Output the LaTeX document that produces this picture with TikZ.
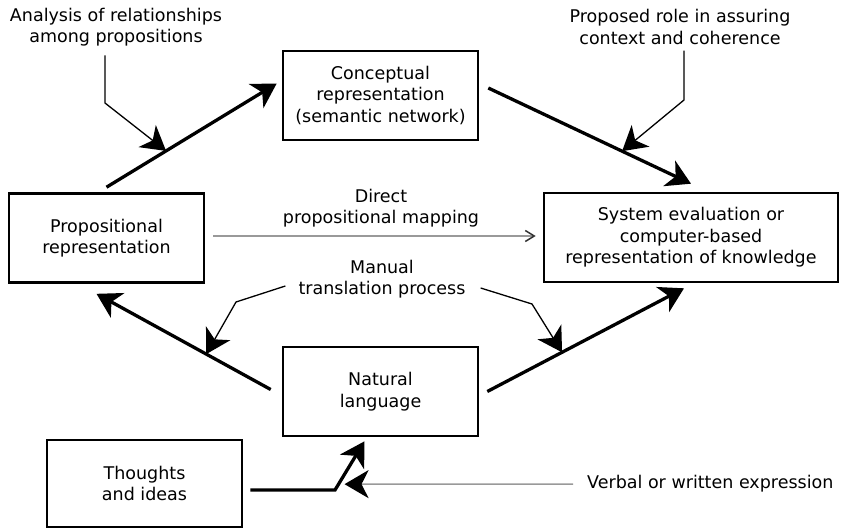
\documentclass[tikz,border=0pt]{standalone}
\usepackage{fontspec}
\setmainfont{DejaVu Sans}
\usetikzlibrary{arrows.meta, calc}

\begin{document}
\begin{tikzpicture}[
  x=1pt, y=-1pt,
  >={Stealth[length=24pt, width=28pt, inset=7pt]},
  every node/.style={font=\fontsize{17.5}{21.5}\selectfont, align=center, inner sep=0pt},
  box/.style={draw, line width=2.6pt, minimum width=195pt, minimum height=89pt},
  flow/.style={->, line width=3.3pt},
  note/.style={->, line width=1.3pt},
  lead/.style={line width=1.5pt, color=black!40}
]
  \useasboundingbox (0,0) rectangle (841,528);

  % boxes
  \node[box] (concept) at (380.5,95.5) {Conceptual\\representation\\(semantic network)};
  \node[box] (prop) at (106.5,238) {Propositional\\representation};
  \node[box, minimum width=294pt] (system) at (691,237.5) {System evaluation or\\computer-based\\representation of knowledge};
  \node[box] (natural) at (380.5,391.5) {Natural\\language};
  \node[box, minimum height=87pt] (thoughts) at (144.5,483.5) {Thoughts\\and ideas};

  % labels
  \node (analysis) at (116,27) {Analysis of relationships\\among propositions};
  \node (role) at (680,27) {Proposed role in assuring\\context and coherence};
  \node (direct) at (381,208) {Direct\\propositional mapping};
  \node (manual) at (382,279) {Manual\\translation process};
  \node[anchor=west] (verbal) at (587,484) {Verbal or written expression};

  % main flows
  \draw[flow] ([yshift=5pt]prop.north) -- coordinate[pos=0.35] (pc) ([xshift=-5pt, yshift=12pt]concept.west);
  \draw[flow] ([xshift=9pt, yshift=7.5pt]concept.east) -- coordinate[pos=0.66] (cs) ([yshift=8pt]system.north);
  \draw[flow] ([xshift=-11pt, yshift=2pt]natural.west) -- coordinate[pos=0.37] (np) ([xshift=-10pt, yshift=-10pt]prop.south);
  \draw[flow] ([xshift=8pt]natural.east) -- coordinate[pos=0.38] (ns) ([xshift=-7pt, yshift=-5pt]system.south);
  \coordinate (bend) at (335,490);
  \draw[flow] ([xshift=7pt, yshift=-6.5pt]thoughts.east) -- (bend) -- coordinate[pos=0.12] (tn) ([xshift=-16pt, yshift=-4pt]natural.south);
  \draw[lead, -{Straight Barb[length=9pt, width=11pt, color=black!80]}]
    ([xshift=8pt, yshift=2pt]prop.east) -- ([xshift=-7pt, yshift=1.5pt]system.west);

  % annotations
  \draw[note] ([yshift=-9pt]analysis.south -| 105,0) -- (105,103) -- (pc);
  \draw[note] ([yshift=-6pt]role.south -| 684,0) -- (684,100) -- (cs);
  \draw[note] ([xshift=-13pt, yshift=-7pt]manual.west) -- (236,302) -- (np);
  \draw[note] ([xshift=15pt, yshift=-9pt]manual.east) -- (532,304) -- (ns);
  \draw[lead, -{Stealth[length=24pt, width=28pt, inset=7pt, color=black]}]
    ([xshift=-14pt]verbal.west) -- ([xshift=6pt]tn);
\end{tikzpicture}
\end{document}
